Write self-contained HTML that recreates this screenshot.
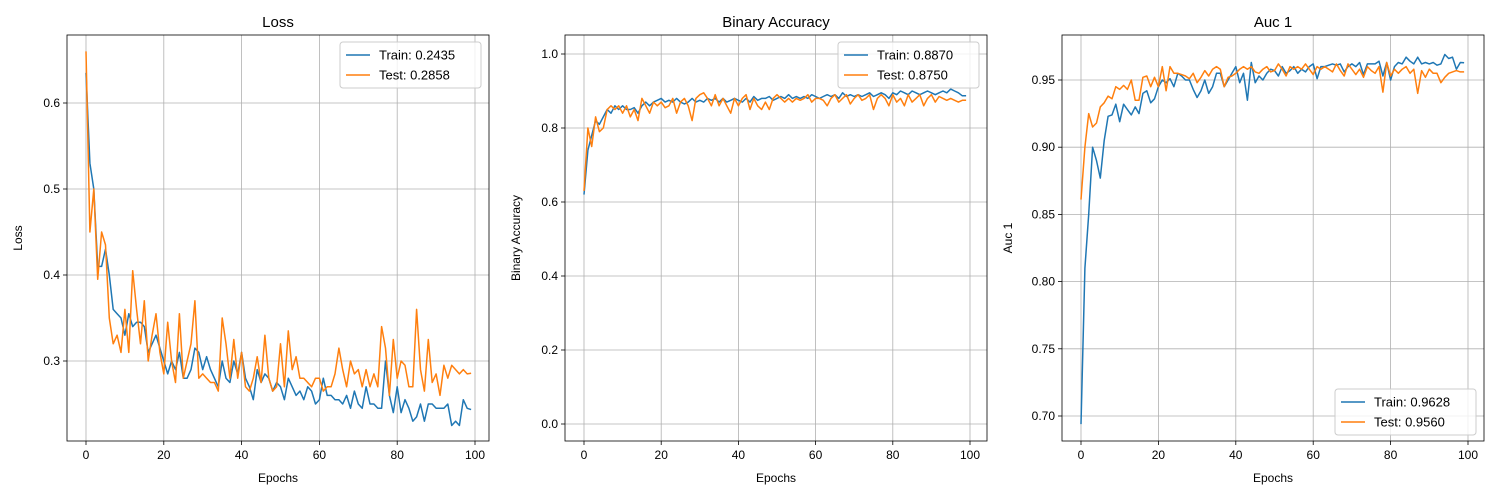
<!DOCTYPE html>
<html><head><meta charset="utf-8"><style>
body{margin:0;background:#fff;}
svg{display:block;font-family:"Liberation Sans","DejaVu Sans",sans-serif;}
</style></head><body>
<svg id="fig" width="1500" height="500"></svg>
<script>
const epochs = Array.from({length:100},(_,i)=>i);
const lossTrain=[0.635,0.53,0.50,0.41,0.41,0.43,0.40,0.36,0.355,0.35,0.33,0.355,0.34,0.345,0.345,0.34,0.31,0.32,0.33,0.315,0.30,0.285,0.30,0.29,0.31,0.28,0.28,0.29,0.315,0.31,0.29,0.305,0.29,0.28,0.27,0.30,0.28,0.275,0.30,0.285,0.31,0.28,0.27,0.255,0.29,0.275,0.285,0.28,0.265,0.275,0.27,0.255,0.28,0.27,0.26,0.265,0.255,0.27,0.265,0.25,0.255,0.28,0.26,0.26,0.255,0.255,0.25,0.26,0.245,0.265,0.25,0.245,0.27,0.25,0.25,0.245,0.245,0.30,0.26,0.24,0.27,0.24,0.255,0.245,0.23,0.235,0.25,0.23,0.25,0.25,0.245,0.245,0.245,0.25,0.225,0.23,0.225,0.255,0.245,0.2435];
const lossTest=[0.66,0.45,0.50,0.395,0.45,0.435,0.35,0.32,0.33,0.31,0.36,0.31,0.405,0.36,0.32,0.37,0.30,0.33,0.355,0.31,0.285,0.345,0.30,0.275,0.355,0.28,0.30,0.32,0.37,0.28,0.285,0.28,0.275,0.275,0.265,0.35,0.32,0.28,0.325,0.28,0.31,0.27,0.265,0.28,0.305,0.275,0.33,0.28,0.265,0.27,0.32,0.27,0.335,0.29,0.305,0.28,0.28,0.275,0.27,0.28,0.28,0.265,0.27,0.27,0.285,0.315,0.29,0.27,0.30,0.285,0.29,0.27,0.29,0.27,0.285,0.27,0.34,0.315,0.26,0.325,0.28,0.30,0.295,0.27,0.27,0.36,0.29,0.265,0.325,0.275,0.285,0.26,0.295,0.28,0.295,0.29,0.285,0.29,0.285,0.2858];
const accTrain=[0.62,0.74,0.78,0.82,0.81,0.83,0.85,0.84,0.86,0.85,0.86,0.85,0.85,0.855,0.84,0.86,0.87,0.86,0.87,0.875,0.88,0.87,0.875,0.87,0.88,0.87,0.865,0.87,0.88,0.87,0.875,0.87,0.88,0.875,0.88,0.87,0.88,0.87,0.875,0.88,0.875,0.87,0.88,0.87,0.885,0.875,0.88,0.88,0.885,0.875,0.88,0.885,0.88,0.89,0.88,0.885,0.88,0.885,0.88,0.89,0.885,0.88,0.885,0.89,0.885,0.89,0.88,0.895,0.885,0.89,0.885,0.89,0.885,0.89,0.895,0.885,0.89,0.895,0.89,0.88,0.895,0.89,0.90,0.895,0.89,0.90,0.895,0.89,0.895,0.90,0.895,0.89,0.895,0.90,0.895,0.905,0.90,0.895,0.887,0.887];
const accTest=[0.63,0.80,0.75,0.83,0.79,0.80,0.85,0.86,0.85,0.86,0.84,0.86,0.83,0.85,0.82,0.88,0.86,0.84,0.87,0.86,0.87,0.855,0.86,0.88,0.84,0.87,0.88,0.86,0.82,0.88,0.89,0.895,0.88,0.86,0.89,0.86,0.88,0.86,0.84,0.88,0.86,0.88,0.89,0.85,0.88,0.86,0.85,0.87,0.85,0.88,0.89,0.88,0.87,0.88,0.87,0.88,0.875,0.88,0.89,0.87,0.88,0.88,0.875,0.86,0.88,0.89,0.87,0.88,0.89,0.865,0.88,0.89,0.875,0.88,0.89,0.85,0.88,0.89,0.88,0.86,0.89,0.87,0.88,0.86,0.89,0.87,0.88,0.89,0.86,0.88,0.89,0.87,0.885,0.88,0.875,0.88,0.875,0.87,0.875,0.875];
const aucTrain=[0.694,0.81,0.85,0.90,0.89,0.877,0.905,0.923,0.924,0.932,0.919,0.932,0.928,0.924,0.93,0.925,0.94,0.942,0.933,0.936,0.945,0.95,0.948,0.951,0.945,0.955,0.953,0.95,0.95,0.943,0.937,0.942,0.95,0.94,0.945,0.955,0.955,0.945,0.95,0.955,0.96,0.948,0.955,0.935,0.963,0.948,0.953,0.95,0.955,0.958,0.957,0.953,0.96,0.955,0.957,0.96,0.955,0.958,0.956,0.96,0.962,0.951,0.96,0.96,0.961,0.962,0.961,0.962,0.956,0.96,0.962,0.96,0.963,0.954,0.962,0.962,0.962,0.964,0.953,0.963,0.95,0.96,0.963,0.962,0.967,0.964,0.962,0.967,0.962,0.963,0.962,0.963,0.961,0.962,0.969,0.966,0.967,0.958,0.963,0.9628];
const aucTest=[0.861,0.90,0.925,0.915,0.918,0.93,0.933,0.938,0.936,0.945,0.943,0.946,0.943,0.95,0.935,0.935,0.952,0.953,0.945,0.952,0.945,0.96,0.942,0.96,0.955,0.955,0.954,0.953,0.951,0.955,0.948,0.952,0.957,0.953,0.958,0.96,0.958,0.945,0.952,0.953,0.955,0.958,0.96,0.958,0.96,0.956,0.955,0.958,0.96,0.956,0.957,0.962,0.958,0.953,0.96,0.958,0.96,0.958,0.962,0.958,0.954,0.96,0.958,0.96,0.958,0.956,0.962,0.957,0.953,0.962,0.958,0.954,0.958,0.952,0.96,0.957,0.955,0.96,0.941,0.963,0.953,0.958,0.955,0.958,0.96,0.955,0.958,0.94,0.957,0.952,0.958,0.955,0.955,0.948,0.952,0.955,0.956,0.957,0.956,0.956];
const xTicks=[0,20,40,60,80,100];
const lossTicks=[0.3,0.4,0.5,0.6];
const accTicks=[0.0,0.2,0.4,0.6,0.8,1.0];
const aucTicks=[0.70,0.75,0.80,0.85,0.90,0.95];
const legendTexts=[["Train: 0.2435","Test: 0.2858"],["Train: 0.8870","Test: 0.8750"],["Train: 0.9628","Test: 0.9560"]];

const NS="http://www.w3.org/2000/svg";
const svg=document.getElementById('fig');
function mk(tag,attrs,parent){const e=document.createElementNS(NS,tag);for(const k in attrs)e.setAttribute(k,attrs[k]);(parent||svg).appendChild(e);return e;}

const panels=[
 {name:'loss',title:'Loss',ylabel:'Loss',L:67,R:489,T:35,B:441,x0:86,x1:475,yv0:0.6,yp0:103,yv1:0.3,yp1:361,ticks:lossTicks,dec:1,tr:lossTrain,te:lossTest,leg:legendTexts[0],legTop:true,ylx:22},
 {name:'binary-accuracy',title:'Binary Accuracy',ylabel:'Binary Accuracy',L:565,R:987,T:35,B:441,x0:584,x1:970,yv0:1.0,yp0:54,yv1:0,yp1:424,ticks:accTicks,dec:1,tr:accTrain,te:accTest,leg:legendTexts[1],legTop:true,ylx:520},
 {name:'auc',title:'Auc 1',ylabel:'Auc 1',L:1062,R:1484,T:35,B:441,x0:1081,x1:1468,yv0:0.95,yp0:80,yv1:0.70,yp1:416,ticks:aucTicks,dec:2,tr:aucTrain,te:aucTest,leg:legendTexts[2],legTop:false,ylx:1012}
];

panels.forEach(p=>{
  const g=mk('g',{});
  
  
  const xs=v=>p.x0+(p.x1-p.x0)*v/100;
  const ys=v=>p.yp0+(p.yp1-p.yp0)*(v-p.yv0)/(p.yv1-p.yv0);
  // grid
  xTicks.forEach(t=>{
    const x=xs(t);
    const l=mk('line',{x1:x,x2:x,y1:p.T,y2:p.B,stroke:'#b0b0b0','stroke-width':0.8},g);
    
    
    mk('line',{x1:x,x2:x,y1:p.B,y2:p.B+4,stroke:'#000','stroke-width':0.8},g);
    const tx=mk('text',{x:x,y:p.B+18,'font-size':12,'text-anchor':'middle'},g);
    tx.textContent=t;
    
    
  });
  p.ticks.forEach(t=>{
    const y=ys(t);
    const l=mk('line',{x1:p.L,x2:p.R,y1:y,y2:y,stroke:'#b0b0b0','stroke-width':0.8},g);
    
    
    mk('line',{x1:p.L-4,x2:p.L,y1:y,y2:y,stroke:'#000','stroke-width':0.8},g);
    const tx=mk('text',{x:p.L-7,y:y+4,'font-size':12,'text-anchor':'end'},g);
    tx.textContent=t.toFixed(p.dec);
    
    
  });
  const series=[[p.tr,'#1f77b4','train-line'],[p.te,'#ff7f0e','test-line']];
  series.forEach(s=>{
    const pts=epochs.map(i=>xs(i).toFixed(1)+','+ys(s[0][i]).toFixed(1)).join(' ');
    const pl=mk('polyline',{points:pts,fill:'none',stroke:s[1],'stroke-width':1.5,'stroke-linejoin':'round'},g);
    
    
  });
  const fr=mk('rect',{x:p.L,y:p.T,width:p.R-p.L,height:p.B-p.T,fill:'none',stroke:'#000','stroke-width':0.8},g);
  
  
  const ti=mk('text',{x:(p.L+p.R)/2,y:27,'font-size':15,'text-anchor':'middle'},g);
  ti.textContent=p.title;
  
  
  const xl=mk('text',{x:(p.L+p.R)/2,y:482,'font-size':12,'text-anchor':'middle'},g);
  xl.textContent='Epochs';
  
  
  const yl=mk('text',{x:p.ylx,y:(p.T+p.B)/2,'font-size':12,'text-anchor':'middle',transform:'rotate(-90 '+p.ylx+' '+((p.T+p.B)/2)+')'},g);
  yl.textContent=p.ylabel;
  
  
  // legend
  const lx=p.R-149, ly=p.legTop?p.T+7:p.B-52;
  const lg=mk('g',{},g);
  
  
  mk('rect',{x:lx,y:ly,width:141,height:46,rx:3,fill:'#fff','fill-opacity':0.8,stroke:'#ccc','stroke-width':1},lg);
  series.forEach((s,k)=>{
    const yy=ly+13+k*20;
    const e=mk('g',{},lg);
    
    
    mk('line',{x1:lx+6,x2:lx+30,y1:yy,y2:yy,stroke:s[1],'stroke-width':1.5},e);
    const t=mk('text',{x:lx+39,y:yy+4.5,'font-size':13},e);
    t.textContent=p.leg[k];
  });
});
</script>
</body></html>
